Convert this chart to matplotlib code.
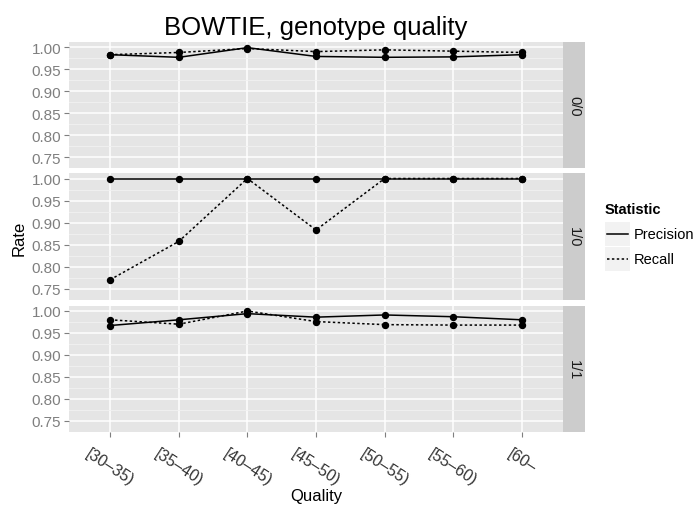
import numpy as np
import matplotlib
matplotlib.use("Agg")
import matplotlib.pyplot as plt
from matplotlib.lines import Line2D
from matplotlib.patches import Rectangle

plt.rcParams['font.family'] = ['Liberation Sans', 'DejaVu Sans']

# data
categories = ["[30\u201335)", "[35\u201340)", "[40\u201345)", "[45\u201350)",
              "[50\u201355)", "[55\u201360)", "[60\u2013"]
genotypes = ["0/0", "1/0", "1/1"]

precision_00 = [0.983, 0.977, 0.999, 0.979, 0.977, 0.978, 0.983]
recall_00 = [0.983, 0.988, 0.997, 0.990, 0.994, 0.991, 0.988]
precision_10 = [1.000, 1.000, 1.000, 1.000, 1.000, 1.000, 1.000]
recall_10 = [0.770, 0.857, 1.000, 0.883, 1.000, 1.000, 1.000]
precision_11 = [0.967, 0.980, 0.994, 0.986, 0.991, 0.987, 0.980]
recall_11 = [0.980, 0.970, 1.000, 0.976, 0.969, 0.968, 0.968]

precision = [precision_00, precision_10, precision_11]
recall = [recall_00, recall_10, recall_11]

y_ticks = [0.75, 0.80, 0.85, 0.90, 0.95, 1.00]

W, H = 697, 510
fig = plt.figure(figsize=(W / 100, H / 100), dpi=100)

def px(x0, y0, x1, y1):
    # pixel box -> figure fraction rect
    return [x0 / W, 1 - y1 / H, (x1 - x0) / W, (y1 - y0) / H]

panel_tops = [42.7, 174.0, 306.5]
panel_h = 126.5
left, right = 69, 563
x = np.arange(len(categories))

for i, g in enumerate(genotypes):
    top = panel_tops[i]
    ax = fig.add_axes(px(left, top, right, top + panel_h))
    ax.set_facecolor('#E5E5E5')
    for s in ax.spines.values():
        s.set_visible(False)
    ax.set_xlim(-0.6, len(categories) - 0.4)
    ax.set_ylim(0.7395, 1.0125)
    ax.set_yticks(y_ticks)
    ax.set_yticklabels([f"{v:.2f}" for v in y_ticks])
    ax.set_yticks([v + 0.025 for v in y_ticks[:-1]] + [0.725], minor=True)
    ax.set_xticks(x)
    ax.grid(True, which='minor', axis='y', color='#F2F2F2', lw=0.6)
    ax.grid(True, which='major', color='white', lw=1.1)
    ax.set_axisbelow(True)
    ax.tick_params(which='major', length=3.4, width=0.8, color='#7F7F7F',
                   labelsize=11, labelcolor='#7F7F7F', pad=2.2)
    ax.tick_params(which='minor', length=0)
    if i < 2:
        ax.tick_params(axis='x', length=0, labelbottom=False)
    else:
        ax.set_xticklabels(categories, rotation=-33, ha='center', va='top',
                           color='#333333', fontsize=11.5)
        ax.tick_params(axis='x', pad=6.5)

    ax.plot(x, precision[i], color='black', lw=1.1, marker='o', ms=4.3, zorder=3)
    ax.plot(x, recall[i], color='black', lw=1.1, ls=(0, (1.6, 1.6)),
            marker='o', ms=4.3, zorder=3)

    sx = fig.add_axes(px(right, top, 585, top + panel_h))
    sx.set_facecolor('#CCCCCC')
    sx.set_xticks([])
    sx.set_yticks([])
    for s in sx.spines.values():
        s.set_visible(False)
    sx.text(0.5, 0.5, g, rotation=-90, ha='center', va='center',
            fontsize=10.5, color='#1A1A1A', transform=sx.transAxes)

fig.text(316 / W, 1 - 35 / H, "BOWTIE, genotype quality", ha='center',
         va='baseline', fontsize=18.5, color='black')
fig.text(316 / W, 1 - 497 / H, "Quality", ha='center', va='center',
         fontsize=12, color='black')
fig.text(19 / W, 1 - 238 / H, "Rate", ha='center', va='center',
         rotation=90, fontsize=12, color='black')

# legend
fig.text(605 / W, 1 - 210 / H, "Statistic", ha='left', va='center',
         fontsize=10.5, fontweight='bold')
for j, (lab, ls) in enumerate([("Precision", '-'), ("Recall", (0, (1.6, 1.6)))]):
    yc = 235 + j * 25
    fig.patches.append(Rectangle((605 / W, 1 - (yc + 12) / H), 25 / W, 24 / H,
                                 transform=fig.transFigure, facecolor='#F2F2F2',
                                 edgecolor='none'))
    fig.lines.append(Line2D([607 / W, 628 / W], [1 - yc / H, 1 - yc / H],
                            transform=fig.transFigure, color='black', lw=1.1, ls=ls))
    fig.text(634 / W, 1 - yc / H, lab, ha='left', va='center', fontsize=10.5)

fig.savefig("out.png", dpi=100)
